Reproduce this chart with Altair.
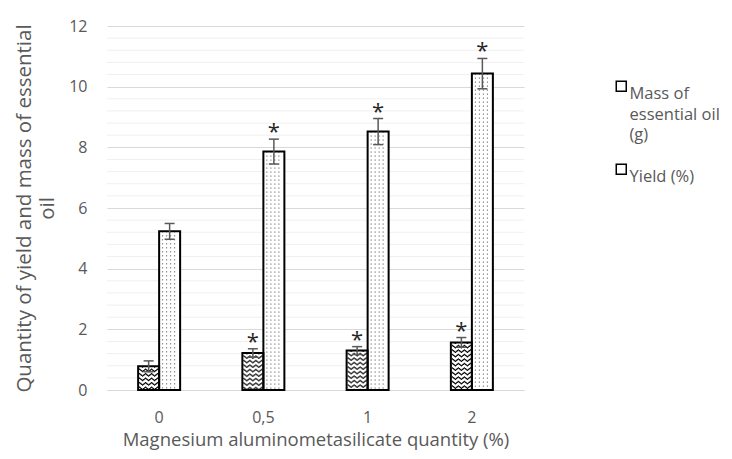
import altair as alt
import pandas as pd

categories = ["0", "0,5", "1", "2"]
series = ["Mass of essential oil (g)", "Yield (%)"]
mass = [0.78, 1.22, 1.30, 1.57]
mass_err = [0.18, 0.14, 0.13, 0.16]
yield_vals = [5.23, 7.86, 8.52, 10.43]
yield_err = [0.26, 0.41, 0.43, 0.50]
significant = [False, True, True, True]

major_ticks = [0, 2, 4, 6, 8, 10, 12]
minor_ticks = [0.4, 0.8, 1.2, 1.6, 2.4, 2.8, 3.2, 3.6, 4.4, 4.8, 5.2, 5.6,
               6.4, 6.8, 7.2, 7.6, 8.4, 8.8, 9.2, 9.6, 10.4, 10.8, 11.2, 11.6]
x_title = "Magnesium aluminometasilicate quantity (%)"
y_title = ["Quantity of yield and mass of essential", "oil"]

rows = []
for i, c in enumerate(categories):
    rows.append(dict(cat=c, series=series[0], value=mass[i], err=mass_err[i], sig=significant[i]))
    rows.append(dict(cat=c, series=series[1], value=yield_vals[i], err=yield_err[i], sig=significant[i]))
df = pd.DataFrame(rows)
df["lo"] = df["value"] - df["err"]
df["hi"] = df["value"] + df["err"]
minor_df = pd.DataFrame({"tick": minor_ticks})

FONT = "Open Sans"
GRAY = "#595959"
BAR_W = 21
HALF = 10.5
offsets = {series[0]: -HALF, series[1]: HALF}

base = alt.Chart(df)
y_scale = alt.Scale(domain=[0, 12], nice=False)
x_scale = alt.Scale(paddingInner=0, paddingOuter=0)

x_axis = alt.Axis(labelAngle=0, labelFont=FONT, labelFontSize=16, labelColor=GRAY,
                  labelPadding=19, titleFont=FONT, titleFontSize=18.5, titleFontWeight="normal",
                  titleColor=GRAY, titlePadding=5, ticks=False, domainColor="#d9d9d9",
                  domainWidth=1, grid=False)
y_axis = alt.Axis(values=major_ticks, labelFont=FONT, labelFontSize=16, labelColor=GRAY,
                  labelPadding=20, titleFont=FONT, titleFontSize=20.5, titleFontWeight="normal",
                  titleColor=GRAY, titlePadding=11, titleLineHeight=23, ticks=False,
                  domain=False, grid=True, gridColor="#d9d9d9", gridWidth=1)


def X():
    return alt.X("cat:N", sort=categories, scale=x_scale, title=x_title, axis=x_axis)


def Y(field):
    return alt.Y(f"{field}:Q", scale=y_scale, title=y_title, axis=y_axis)


layers = []

# minor gridlines
layers.append(
    alt.Chart(minor_df).mark_rule(color="#f0f0f0", strokeWidth=1)
    .encode(y=Y("tick"))
)

# white bar bodies (carry the legend)
for s in series:
    layers.append(
        base.transform_filter(alt.datum.series == s)
        .mark_bar(size=BAR_W, xOffset=offsets[s], stroke=None)
        .encode(
            x=X(),
            y=Y("value"),
            fill=alt.Fill("series:N", sort=series,
                          scale=alt.Scale(domain=series, range=["white", "white"]),
                          legend=alt.Legend(
                              title=None, orient="none", legendX=506, legendY=52,
                              symbolType="square", symbolSize=100, symbolStrokeColor="black",
                              symbolStrokeWidth=1.5, labelFont=FONT, labelFontSize=16.5,
                              labelColor=GRAY, labelBaseline="top", labelOffset=0,
                              rowPadding=17, labelLimit=200,
                              labelExpr="datum.label == 'Mass of essential oil (g)' ? ['Mass of', 'essential oil', '(g)'] : datum.label")),
        )
    )

# zigzag texture in mass bars
for dx in range(-9, 10):
    phase = abs(((dx + 9) % 6) - 3) * 0.75
    layers.append(
        base.transform_filter(alt.datum.series == series[0])
        .mark_rule(xOffset=offsets[series[0]] + dx, color="black", strokeWidth=1.1,
                   strokeDash=[1.5, 3], strokeDashOffset=phase)
        .encode(x=X(), y=Y("value"), y2=alt.datum(0))
    )

# dotted texture in yield bars
for dx in [-7, -3, 1, 5]:
    layers.append(
        base.transform_filter(alt.datum.series == series[1])
        .mark_rule(xOffset=offsets[series[1]] + dx, color="#444444", strokeWidth=1,
                   strokeDash=[1, 3])
        .encode(x=X(), y=Y("value"), y2=alt.datum(0))
    )

# bar outlines
for s in series:
    layers.append(
        base.transform_filter(alt.datum.series == s)
        .mark_bar(size=BAR_W, xOffset=offsets[s], fillOpacity=0, stroke="black", strokeWidth=2)
        .encode(x=X(), y=Y("value"))
    )

# error bars and significance marks
for s in series:
    sub = base.transform_filter(alt.datum.series == s)
    layers.append(
        sub.mark_rule(xOffset=offsets[s], color=GRAY, strokeWidth=1.5)
        .encode(x=X(), y=Y("lo"), y2="hi:Q")
    )
    for f in ["lo", "hi"]:
        layers.append(
            sub.mark_tick(xOffset=offsets[s], color=GRAY, size=10, thickness=1.5, opacity=1)
            .encode(x=X(), y=Y(f))
        )
    layers.append(
        sub.transform_filter(alt.datum.sig)
        .mark_text(text="*", xOffset=offsets[s], dy=5, baseline="bottom", font=FONT,
                   fontSize=22, color="#262626")
        .encode(x=X(), y=Y("hi"))
    )

chart = alt.layer(*layers).properties(
    width=417, height=364,
    autosize=alt.AutoSizeParams(type="none"),
    padding={"left": 99, "top": 18, "right": 200, "bottom": 60},
).configure(
    style={"guide-label": {"lineHeight": 20.5}}
).configure_view(stroke=None)

chart.save("out.html", embed_options={"renderer": "svg", "actions": False})
